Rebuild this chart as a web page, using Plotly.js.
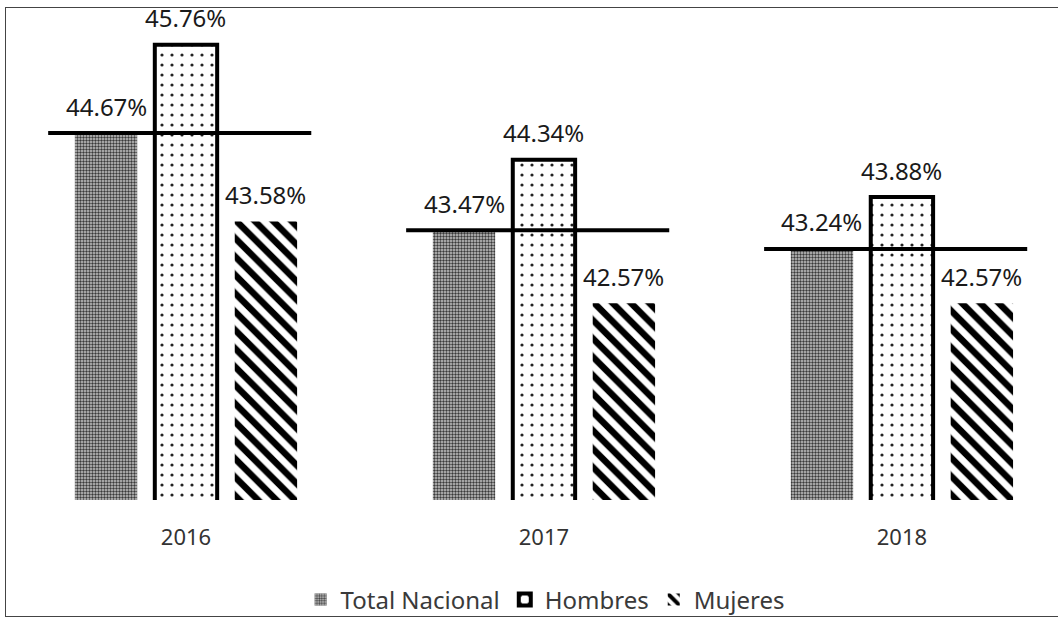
<!DOCTYPE html>
<html>
<head>
<meta charset="utf-8">
<script src="https://cdn.plot.ly/plotly-3.0.1.min.js"></script>
<style>
  html, body { margin: 0; padding: 0; background: #fff; }
  #chart { width: 1058px; height: 624px; }
  #frame { position: absolute; left: 5px; top: 7px; width: 1100px; height: 610px;
           border: 1.5px solid #444; pointer-events: none; box-sizing: border-box; }
</style>
</head>
<body>
<div id="chart"></div>
<div id="frame"></div>
<script>
const years = ['2016', '2017', '2018'];
const totalNacional = [44.67, 43.47, 43.24];
const hombres = [45.76, 44.34, 43.88];
const mujeres = [43.58, 42.57, 42.57];
const seriesNames = ['Total Nacional', 'Hombres', 'Mujeres'];

const fmt = v => v.toFixed(2) + '%';
const labelFont = { family: 'Noto Sans, sans-serif', size: 24, color: '#1a1a1a' };

const traces = [
  {
    type: 'bar', name: seriesNames[0], x: years, y: totalNacional,
    marker: {
      color: '#a8a8a8',
      line: { width: 0 },
      pattern: { shape: '.', fgcolor: '#3a3a3a', bgcolor: '#c8c8c8', size: 3, solidity: 0.5 }
    },
    hoverinfo: 'skip'
  },
  {
    type: 'bar', name: seriesNames[1], x: years, y: hombres,
    marker: {
      color: '#ffffff',
      line: { width: 4, color: '#000' },
      pattern: { shape: '.', fgcolor: '#222', bgcolor: '#fff', size: 10, solidity: 0.08 }
    },
    hoverinfo: 'skip'
  },
  {
    type: 'bar', name: seriesNames[2], x: years, y: mujeres,
    marker: {
      color: '#ffffff',
      line: { width: 0 },
      pattern: { shape: '\\', fgcolor: '#000', bgcolor: '#fff', size: 13, solidity: 0.5 }
    },
    hoverinfo: 'skip'
  }
];

// offsets of each bar within its group (category units)
const slot = (1 - 0.33) / 3;
const offsets = [-slot, 0, slot];
const series = [totalNacional, hombres, mujeres];

const annotations = [];
series.forEach((vals, s) => {
  vals.forEach((v, i) => {
    annotations.push({
      x: i + offsets[s], y: v, xref: 'x', yref: 'y',
      text: fmt(v), showarrow: false, yanchor: 'middle', yshift: 27,
      font: labelFont
    });
  });
});

const shapes = totalNacional.map((v, i) => ({
  type: 'line', xref: 'x', yref: 'y',
  x0: i - 0.385, x1: i + 0.35, y0: v, y1: v,
  line: { color: '#000', width: 4 }
}));

const layout = {
  width: 1058, height: 624,
  margin: { l: 7, r: 0, t: 10, b: 124 },
  paper_bgcolor: '#fff', plot_bgcolor: '#fff',
  barmode: 'group', bargap: 0.33, bargroupgap: 0.22,
  showlegend: true,
  legend: {
    orientation: 'h', x: 0.512, xanchor: 'center', y: -0.204, yanchor: 'middle',
    font: { family: 'Noto Sans, sans-serif', size: 24, color: '#3a3a3a' },
    traceorder: 'normal', itemwidth: 30
  },
  xaxis: {
    type: 'category', range: [-0.5, 2.436],
    showgrid: false, zeroline: false, showline: false, ticks: '',
    ticklabelstandoff: 22,
    tickfont: { family: 'Noto Sans, sans-serif', size: 22, color: '#333' }
  },
  yaxis: {
    range: [40.14, 46.19], visible: false, showgrid: false, zeroline: false
  },
  annotations: annotations,
  shapes: shapes
};

Plotly.newPlot('chart', traces, layout, { displayModeBar: false, staticPlot: true });
</script>
</body>
</html>
